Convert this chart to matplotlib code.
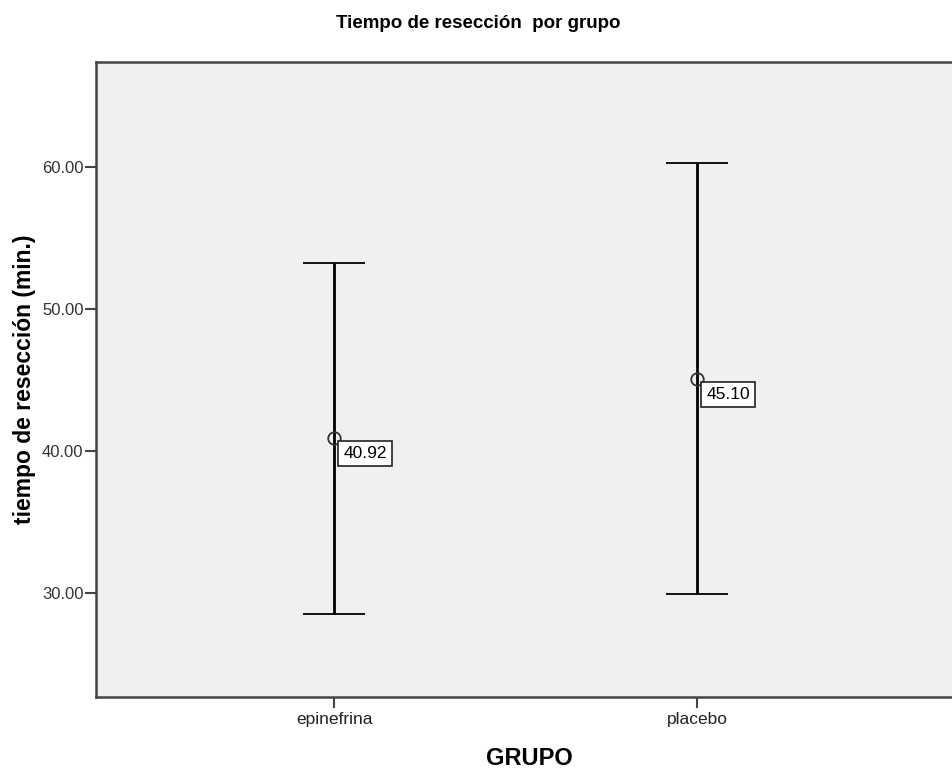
import numpy as np
import matplotlib.pyplot as plt

grupos = ['epinefrina', 'placebo']
medias = [40.92, 45.10]
sup = [53.24, 60.25]
inf = [28.55, 29.95]
etiquetas = ['40.92', '45.10']

plt.rcParams['font.family'] = ['Liberation Sans', 'DejaVu Sans']

fig = plt.figure(figsize=(9.53, 7.71), dpi=100)
ax = fig.add_axes([96/953, 1 - 697/771, 1 - 96/953 + 0.01, (697 - 62)/771])
ax.set_facecolor('#f0f0f0')

x = np.arange(len(grupos))
med = np.array(medias)
err = [med - np.array(inf), np.array(sup) - med]
ax.errorbar(x, med, yerr=err, fmt='o', mfc='none', mec='#333333', ms=9, mew=1.3,
            ecolor='black', elinewidth=2, capsize=22, capthick=2)

for xi, m, t in zip(x, medias, etiquetas):
    ax.annotate(t, (xi, m), xytext=(6.5, -6), textcoords='offset points',
                ha='left', va='top', fontsize=12.5,
                bbox=dict(boxstyle='square,pad=0.3', fc='white', ec='#222222', lw=1.2))

ax.set_xlim(-0.656, 1.73)
ax.set_ylim(22.68, 67.39)
ax.set_xticks(x)
ax.set_xticklabels(grupos, fontsize=12.5, color='#222222')
ax.set_yticks([30, 40, 50, 60])
ax.set_yticklabels(['30.00', '40.00', '50.00', '60.00'], fontsize=12, color='#333333')
ax.tick_params(axis='both', length=8, width=1.5, color='#444444')
ax.tick_params(axis='x', pad=3)
ax.tick_params(axis='y', pad=1)

for s in ['left', 'bottom', 'top']:
    ax.spines[s].set_color('#444444')
    ax.spines[s].set_linewidth(1.8)
ax.spines['right'].set_visible(False)

ax.set_ylabel('tiempo de resección (min.)', fontsize=16.5, fontweight='bold', labelpad=4)
ax.set_xlabel('GRUPO', fontsize=17, fontweight='bold', labelpad=14)
fig.text(478/953, 1 - 23/771, 'Tiempo de resección  por grupo', ha='center', va='center',
         fontsize=13.5, fontweight='bold')

fig.savefig('out.png', dpi=100)
